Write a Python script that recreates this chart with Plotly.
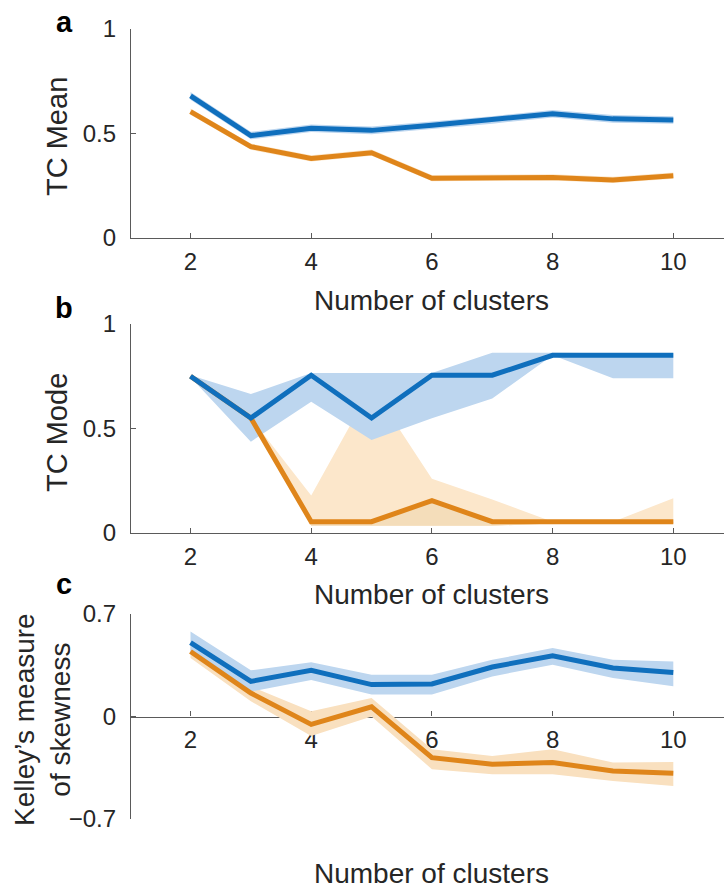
import plotly.graph_objects as go

# ---------------- data ----------------
clusters = [2, 3, 4, 5, 6, 7, 8, 9, 10]

# panel a: TC Mean
a_blue_mean = [0.68, 0.49, 0.525, 0.515, 0.54, 0.565, 0.595, 0.57, 0.565]
a_blue_upper = [0.698, 0.508, 0.543, 0.533, 0.558, 0.583, 0.613, 0.588, 0.583]
a_blue_lower = [0.662, 0.472, 0.507, 0.497, 0.522, 0.547, 0.577, 0.552, 0.547]
a_orange_mean = [0.605, 0.437, 0.381, 0.408, 0.286, 0.289, 0.29, 0.278, 0.298]
a_orange_upper = [0.62, 0.452, 0.396, 0.423, 0.301, 0.304, 0.305, 0.293, 0.313]
a_orange_lower = [0.59, 0.422, 0.366, 0.393, 0.271, 0.274, 0.275, 0.263, 0.283]

# panel b: TC Mode
b_blue_mean = [0.75, 0.55, 0.755, 0.55, 0.755, 0.755, 0.85, 0.85, 0.85]
b_blue_upper = [0.755, 0.665, 0.765, 0.765, 0.765, 0.862, 0.862, 0.86, 0.86]
b_blue_lower = [0.745, 0.437, 0.628, 0.445, 0.549, 0.644, 0.85, 0.74, 0.74]
b_orange_mean = [0.75, 0.55, 0.054, 0.054, 0.155, 0.054, 0.054, 0.054, 0.054]
b_orange_upper = [0.75, 0.55, 0.18, 0.70, 0.26, 0.16, 0.054, 0.054, 0.166]
b_orange_lower = [0.75, 0.55, 0.035, 0.035, 0.035, 0.035, 0.045, 0.045, 0.045]

# panel c: Kelley's measure of skewness
c_blue_mean = [0.505, 0.24, 0.315, 0.218, 0.222, 0.338, 0.415, 0.331, 0.301]
c_blue_upper = [0.58, 0.315, 0.37, 0.285, 0.285, 0.387, 0.467, 0.387, 0.376]
c_blue_lower = [0.435, 0.17, 0.25, 0.15, 0.15, 0.274, 0.354, 0.263, 0.206]
c_orange_mean = [0.444, 0.16, -0.054, 0.066, -0.281, -0.326, -0.315, -0.372, -0.387]
c_orange_upper = [0.48, 0.206, 0.036, 0.127, -0.224, -0.27, -0.224, -0.315, -0.31]
c_orange_lower = [0.40, 0.104, -0.134, 0.0, -0.36, -0.394, -0.394, -0.44, -0.474]

x_ticks = [2, 4, 6, 8, 10]
x_ticktext = ["2", "4", "6", "8", "10"]
ya_ticks = [0, 0.5, 1]
ya_ticktext = ["0", "0.5", "1"]
yc_ticks = [-0.7, 0, 0.7]
yc_ticktext = ["\u22120.7", "0", "0.7"]

# ---------------- styling ----------------
BLUE = "#0F6FBD"
ORANGE = "#DF851A"
BLUE_FILL = "#BDD6EF"
ORANGE_FILL = "#FCE7CB"
ORANGE_FILL_C = "#F9E0BF"
ORANGE_FILL_DARK = "#F4DDBA"
AXIS = "#5a5a5a"
TXT = "#262626"
FONT = "Liberation Sans, Arial, sans-serif"

W, H = 724, 893
L = 131

fig = go.Figure()


def band(xref, yref, upper, lower, color):
    fig.add_trace(go.Scatter(
        x=clusters + clusters[::-1], y=upper + lower[::-1],
        fill="toself", fillcolor=color, mode="none",
        hoverinfo="skip", showlegend=False, xaxis=xref, yaxis=yref))


def line(xref, yref, y, color):
    fig.add_trace(go.Scatter(
        x=clusters, y=y, mode="lines", line=dict(color=color, width=5),
        showlegend=False, xaxis=xref, yaxis=yref))


# panel a
band("x", "y", a_orange_upper, a_orange_lower, ORANGE_FILL)
band("x", "y", a_blue_upper, a_blue_lower, BLUE_FILL)
line("x", "y", a_orange_mean, ORANGE)
line("x", "y", a_blue_mean, BLUE)

# panel b
band("x2", "y2", b_orange_upper, b_orange_lower, ORANGE_FILL)
band("x2", "y2", b_orange_mean, b_orange_lower, ORANGE_FILL_DARK)
band("x2", "y2", b_blue_upper, b_blue_lower, BLUE_FILL)
line("x2", "y2", b_orange_mean, ORANGE)
line("x2", "y2", b_blue_mean, BLUE)

# panel c
band("x3", "y3", c_orange_upper, c_orange_lower, ORANGE_FILL_C)
band("x3", "y3", c_blue_upper, c_blue_lower, BLUE_FILL)
line("x3", "y3", c_orange_mean, ORANGE)
line("x3", "y3", c_blue_mean, BLUE)


def pdom(top_px, bottom_px):
    return [1 - bottom_px / H, 1 - top_px / H]


dom_a = pdom(29, 238)
dom_b = pdom(324, 533)
dom_c = pdom(614, 819)

x_range = [1.014, 10.84]

common_x = dict(range=x_range, domain=[0, 1], showline=True, linecolor=AXIS,
                linewidth=1.3, ticks="inside", ticklen=5, tickcolor=AXIS,
                tickvals=x_ticks, ticktext=x_ticktext, showgrid=False,
                zeroline=False, ticklabelstandoff=2, automargin=False,
                tickfont=dict(family=FONT, size=24, color=TXT))
common_y = dict(showline=True, linecolor=AXIS, linewidth=1.3, ticks="inside",
                ticklen=5, tickcolor=AXIS, showgrid=False, zeroline=False,
                ticklabelstandoff=9, automargin=False,
                tickfont=dict(family=FONT, size=24, color=TXT))

fig.update_layout(
    template="none",
    width=W, height=H, autosize=False,
    margin=dict(l=L, r=0, t=0, b=0, pad=0, autoexpand=False),
    plot_bgcolor="white", paper_bgcolor="white",
    showlegend=False,
    xaxis=dict(anchor="y", **common_x),
    xaxis2=dict(anchor="y2", **common_x),
    xaxis3=dict(anchor="free", position=(dom_c[0] + dom_c[1]) / 2,
                layer="below traces", **common_x),
    yaxis=dict(domain=dom_a, range=[0, 1], anchor="x", tickvals=ya_ticks,
               ticktext=ya_ticktext, **common_y),
    yaxis2=dict(domain=dom_b, range=[0, 1], anchor="x2", tickvals=ya_ticks,
                ticktext=ya_ticktext, **common_y),
    yaxis3=dict(domain=dom_c, range=[-0.7, 0.7], anchor="x3", tickvals=yc_ticks,
                ticktext=yc_ticktext, **common_y),
)


def px_x(px):
    return (px - L) / (W - L)


def px_y(px):
    return 1 - px / H


def ann(text, xpx, ypx, size, bold=False, angle=0):
    fig.add_annotation(
        text=f"<b>{text}</b>" if bold else text,
        x=px_x(xpx), y=px_y(ypx), xref="paper", yref="paper",
        xanchor="center", yanchor="middle", showarrow=False, textangle=angle,
        font=dict(family=FONT, size=size, color="#000000" if bold else TXT))


# x-axis titles
ann("Number of clusters", 431, 300, 28)
ann("Number of clusters", 431, 594, 28)
ann("Number of clusters", 431, 873, 28)

# y-axis titles
ann("TC Mean", 57, 137, 29, angle=-90)
ann("TC Mode", 57, 433, 29, angle=-90)
ann("Kelley\u2019s measure<br>of skewness", 42, 720, 28, angle=-90)

# panel letters
ann("a", 64, 22, 29, bold=True)
ann("b", 64, 308, 29, bold=True)
ann("c", 64, 584, 29, bold=True)

fig.write_html("out.html", config={"responsive": False})
